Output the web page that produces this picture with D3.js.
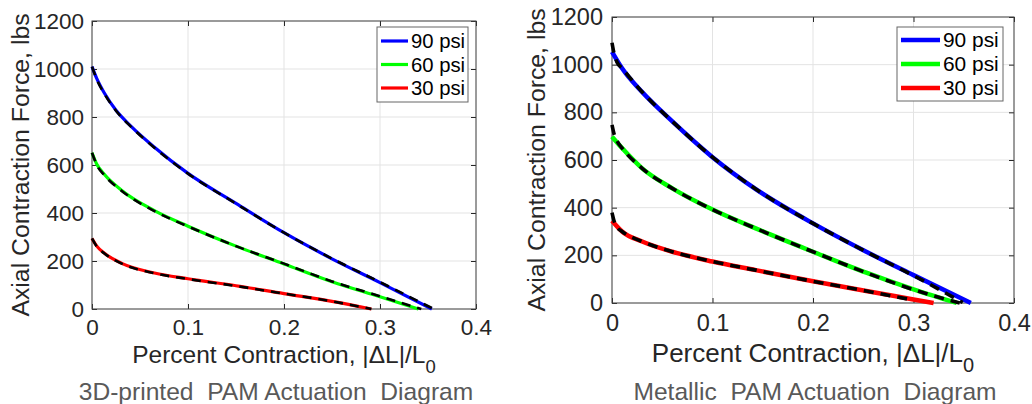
<!DOCTYPE html>
<html>
<head>
<meta charset="utf-8">
<script src="https://cdn.jsdelivr.net/npm/d3@7"></script>
<style>
  body { margin: 0; background: #fff; }
  svg { display: block; }
</style>
</head>
<body>
<script>
const xTicks = [0, 0.1, 0.2, 0.3, 0.4];
const yTicks = [0, 200, 400, 600, 800, 1000, 1200];
const pressures = ['90 psi', '60 psi', '30 psi'];
const colors = ['#0000ff', '#00ff00', '#ff0000'];

// 3D-printed PAM: measured curves
const printed90X = [0, 0.005, 0.013, 0.025, 0.041, 0.065, 0.1, 0.15, 0.2, 0.25, 0.3, 0.354];
const printed90F = [1010, 960, 899, 828, 760, 674, 565, 440, 318, 209, 110, 0];
const printed60X = [0, 0.005, 0.013, 0.031, 0.065, 0.1, 0.15, 0.2, 0.25, 0.3, 0.34];
const printed60F = [651, 603, 560, 494, 410, 345, 262, 188, 114, 51, 0];
const printed30X = [0, 0.005, 0.013, 0.031, 0.065, 0.1, 0.15, 0.2, 0.25, 0.291];
const printed30F = [294, 262, 232, 190, 150, 126, 97, 64, 32, 0];
// 3D-printed PAM: model (dashed)
const printedModel90X = [0, 0.005, 0.013, 0.025, 0.041, 0.065, 0.1, 0.15, 0.2, 0.25, 0.3, 0.356];
const printedModel90F = [1010, 956, 896, 826, 758, 672, 564, 439, 318, 210, 112, 0];
const printedModel60X = [0, 0.005, 0.013, 0.031, 0.065, 0.1, 0.15, 0.2, 0.25, 0.3, 0.343];
const printedModel60F = [651, 600, 557, 492, 408, 344, 262, 189, 115, 53, 0];
const printedModel30X = [0, 0.005, 0.013, 0.031, 0.065, 0.1, 0.15, 0.2, 0.25, 0.291];
const printedModel30F = [294, 260, 231, 189, 149, 125, 96, 64, 32, 0];

// Metallic PAM: measured curves
const metal90X = [0, 0.01, 0.03, 0.06, 0.1, 0.143, 0.2, 0.253, 0.3, 0.357];
const metal90F = [1054, 985, 885, 762, 612, 478, 334, 215, 117, 0];
const metal60X = [0, 0.01, 0.03, 0.06, 0.1, 0.143, 0.2, 0.253, 0.3, 0.343];
const metal60F = [698, 650, 565, 481, 392, 313, 215, 127, 57, 0];
const metal30X = [0, 0.01, 0.03, 0.06, 0.1, 0.143, 0.2, 0.253, 0.3, 0.32];
const metal30F = [345, 300, 258, 215, 174, 138, 91, 50, 15, 0];
// Metallic PAM: model (dashed)
const metalModel90X = [0, 0.002, 0.005, 0.01, 0.03, 0.06, 0.1, 0.143, 0.2, 0.253, 0.3, 0.349];
const metalModel90F = [1092, 1048, 1010, 985, 885, 762, 612, 478, 334, 215, 115, 2];
const metalModel60X = [0, 0.002, 0.005, 0.01, 0.03, 0.06, 0.1, 0.143, 0.2, 0.253, 0.3, 0.346];
const metalModel60F = [747, 710, 680, 650, 565, 481, 392, 313, 215, 127, 56, 0];
const metalModel30X = [0, 0.002, 0.005, 0.01, 0.03, 0.06, 0.1, 0.143, 0.2, 0.253, 0.3];
const metalModel30F = [379, 345, 318, 300, 258, 215, 174, 138, 91, 50, 12];

const zip = (xs, fs) => xs.map((x, i) => ({ x, f: fs[i] }));

const panels = [
  {
    left: 92, right: 476, top: 21, bottom: 309,
    tickFont: 22.5, yLabelFont: 24.8, xLabelFont: 24.5, capFont: 24.6,
    xPad: 10, yPad: 8,
    lw: 3.2, dash: '9,7', dashW: 2.6,
    titleX: 276, titleY: 400, labelX: 20, labelY: 363,
    legend: { x: 377, y: 27, w: 91, h: 75, line: [381, 408], font: 20.3, row0: 14, rowStep: 23.5 },
    title: '3D-printed  PAM Actuation  Diagram',
    measured: [zip(printed90X, printed90F), zip(printed60X, printed60F), zip(printed30X, printed30F)],
    model: [zip(printedModel90X, printedModel90F), zip(printedModel60X, printedModel60F), zip(printedModel30X, printedModel30F)]
  },
  {
    left: 612, right: 1014, top: 17, bottom: 303,
    tickFont: 23.5, yLabelFont: 24.8, xLabelFont: 26, capFont: 24.6,
    xPad: 11, yPad: 9,
    lw: 4.5, dash: '10,7', dashW: 3.6,
    titleX: 815, titleY: 400, labelX: 536, labelY: 362,
    legend: { x: 897, y: 27, w: 106, h: 74, line: [901, 940], font: 20.9, row0: 13, rowStep: 24 },
    title: 'Metallic  PAM Actuation  Diagram',
    measured: [zip(metal90X, metal90F), zip(metal60X, metal60F), zip(metal30X, metal30F)],
    model: [zip(metalModel90X, metalModel90F), zip(metalModel60X, metalModel60F), zip(metalModel30X, metalModel30F)]
  }
];

const fontFamily = '"Liberation Sans", Arial, Helvetica, sans-serif';
const axisColor = '#262626';

const svg = d3.select('body')
  .append('svg')
  .attr('width', 1032)
  .attr('height', 404)
  .style('font-family', fontFamily);

panels.forEach(p => {
  const x = d3.scaleLinear().domain([0, 0.4]).range([p.left, p.right]);
  const y = d3.scaleLinear().domain([0, 1200]).range([p.bottom, p.top]);
  const g = svg.append('g');

  // Grid
  g.append('g').selectAll('line').data(xTicks).join('line')
    .attr('x1', d => x(d)).attr('x2', d => x(d))
    .attr('y1', p.top).attr('y2', p.bottom)
    .attr('stroke', '#e3e3e3').attr('stroke-width', 1);
  g.append('g').selectAll('line').data(yTicks).join('line')
    .attr('x1', p.left).attr('x2', p.right)
    .attr('y1', d => y(d)).attr('y2', d => y(d))
    .attr('stroke', '#e3e3e3').attr('stroke-width', 1);

  // Axes, ticks pointing inward
  const fmt = d => String(d);
  const bottomAxis = g.append('g')
    .attr('transform', `translate(0,${p.bottom})`)
    .call(d3.axisBottom(x).tickValues(xTicks).tickFormat(fmt).tickSizeInner(-5).tickSizeOuter(0).tickPadding(p.xPad));
  const leftAxis = g.append('g')
    .attr('transform', `translate(${p.left},0)`)
    .call(d3.axisLeft(y).tickValues(yTicks).tickFormat(fmt).tickSizeInner(-5).tickSizeOuter(0).tickPadding(p.yPad));
  const topAxis = g.append('g')
    .attr('transform', `translate(0,${p.top})`)
    .call(d3.axisTop(x).tickValues(xTicks).tickFormat('').tickSizeInner(-5).tickSizeOuter(0));
  const rightAxis = g.append('g')
    .attr('transform', `translate(${p.right},0)`)
    .call(d3.axisRight(y).tickValues(yTicks).tickFormat('').tickSizeInner(-5).tickSizeOuter(0));

  [bottomAxis, leftAxis, topAxis, rightAxis].forEach(a => {
    a.select('.domain').remove();
    a.selectAll('line').attr('stroke', axisColor);
    a.selectAll('text')
      .attr('fill', axisColor)
      .style('font-size', p.tickFont + 'px')
      .style('font-family', fontFamily);
  });

  // Box
  g.append('rect')
    .attr('x', p.left).attr('y', p.top)
    .attr('width', p.right - p.left).attr('height', p.bottom - p.top)
    .attr('fill', 'none').attr('stroke', '#444').attr('stroke-width', 1);

  const line = d3.line().x(d => x(d.x)).y(d => y(d.f)).curve(d3.curveMonotoneX);

  // Measured curves
  g.append('g').selectAll('path').data(p.measured).join('path')
    .attr('d', line)
    .attr('fill', 'none')
    .attr('stroke', (d, i) => colors[i])
    .attr('stroke-width', p.lw);

  // Model curves, dashed black
  g.append('g').selectAll('path').data(p.model).join('path')
    .attr('d', line)
    .attr('fill', 'none')
    .attr('stroke', '#000')
    .attr('stroke-width', p.dashW)
    .attr('stroke-dasharray', p.dash);

  // Legend
  const L = p.legend;
  const lg = g.append('g');
  lg.append('rect')
    .attr('x', L.x).attr('y', L.y).attr('width', L.w).attr('height', L.h)
    .attr('fill', '#fff').attr('stroke', '#666').attr('stroke-width', 1);
  pressures.forEach((name, i) => {
    const cy = L.y + L.row0 + i * L.rowStep;
    lg.append('line')
      .attr('x1', L.line[0]).attr('x2', L.line[1])
      .attr('y1', cy).attr('y2', cy)
      .attr('stroke', colors[i]).attr('stroke-width', p.lw);
    lg.append('text')
      .attr('x', L.line[1] + 3).attr('y', cy)
      .attr('dy', '0.35em')
      .attr('fill', '#000')
      .style('font-size', L.font + 'px')
      .text(name);
  });

  // Y label
  g.append('text')
    .attr('transform', `translate(${p.labelX},${(p.top + p.bottom) / 2}) rotate(-90)`)
    .attr('text-anchor', 'middle')
    .attr('dy', '0.35em')
    .attr('fill', axisColor)
    .style('font-size', p.yLabelFont + 'px')
    .text('Axial Contraction Force, lbs');

  // X label with subscript
  const xl = g.append('text')
    .attr('x', (p.left + p.right) / 2)
    .attr('y', p.labelY)
    .attr('text-anchor', 'middle')
    .attr('fill', axisColor)
    .style('font-size', p.xLabelFont + 'px');
  xl.append('tspan').text('Percent Contraction, |\u0394L|/L');
  xl.append('tspan').attr('dy', 10).style('font-size', (p.xLabelFont - 6) + 'px').text('0');

  // Caption
  g.append('text')
    .attr('x', p.titleX)
    .attr('y', p.titleY)
    .attr('text-anchor', 'middle')
    .attr('fill', '#595959')
    .style('font-size', p.capFont + 'px')
    .style('white-space', 'pre')
    .text(p.title);
});
</script>
</body>
</html>
